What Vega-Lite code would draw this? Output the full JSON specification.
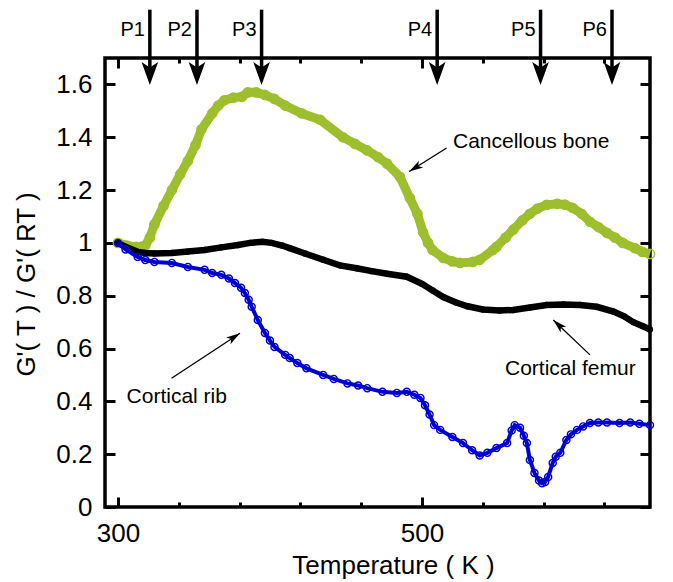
{
  "$schema": "https://vega.github.io/schema/vega-lite/v6.json",
  "width": 545,
  "height": 449,
  "autosize": {"type": "none"},
  "padding": {"left": 105, "top": 58, "right": 23, "bottom": 75},
  "background": "white",
  "config": {
    "view": {"stroke": "black", "strokeWidth": 3.5},
    "font": "Liberation Sans",
    "axis": {"domain": false, "labelColor": "black", "titleColor": "black", "labelFont": "Liberation Sans", "titleFont": "Liberation Sans"}
  },
  "datasets": {
    "cancellous": [
      {"T": 300, "G": 1.0}, {"T": 306, "G": 0.99}, {"T": 312, "G": 0.985}, {"T": 318, "G": 0.99}, {"T": 321, "G": 1.02},
      {"T": 324, "G": 1.07}, {"T": 330, "G": 1.14}, {"T": 335.5, "G": 1.2}, {"T": 341, "G": 1.26}, {"T": 346, "G": 1.31},
      {"T": 351, "G": 1.37}, {"T": 355, "G": 1.43}, {"T": 362, "G": 1.49}, {"T": 366, "G": 1.52}, {"T": 370, "G": 1.54},
      {"T": 376, "G": 1.55}, {"T": 381.6, "G": 1.553}, {"T": 385.5, "G": 1.57}, {"T": 391, "G": 1.57}, {"T": 396.7, "G": 1.56},
      {"T": 403, "G": 1.545}, {"T": 410, "G": 1.52}, {"T": 421, "G": 1.49}, {"T": 433, "G": 1.466}, {"T": 448, "G": 1.4},
      {"T": 456, "G": 1.375}, {"T": 464, "G": 1.35}, {"T": 471, "G": 1.325}, {"T": 477, "G": 1.3}, {"T": 485.5, "G": 1.25},
      {"T": 492, "G": 1.17}, {"T": 497, "G": 1.11}, {"T": 500.7, "G": 1.04}, {"T": 504, "G": 1.0}, {"T": 507, "G": 0.973},
      {"T": 514, "G": 0.943}, {"T": 520, "G": 0.93}, {"T": 525, "G": 0.924}, {"T": 533.5, "G": 0.928}, {"T": 538, "G": 0.936},
      {"T": 546.7, "G": 0.973}, {"T": 549, "G": 0.985}, {"T": 555, "G": 1.02}, {"T": 560, "G": 1.05}, {"T": 566, "G": 1.085},
      {"T": 571, "G": 1.11}, {"T": 576, "G": 1.13}, {"T": 582, "G": 1.144}, {"T": 589, "G": 1.148}, {"T": 594, "G": 1.145},
      {"T": 599, "G": 1.133}, {"T": 605, "G": 1.11}, {"T": 610.5, "G": 1.08}, {"T": 616, "G": 1.06}, {"T": 621.7, "G": 1.038},
      {"T": 627, "G": 1.02}, {"T": 632, "G": 1.0}, {"T": 640, "G": 0.98}, {"T": 645, "G": 0.966}, {"T": 650, "G": 0.958}
    ],
    "femur": [
      {"T": 300, "G": 1.0}, {"T": 305, "G": 0.985}, {"T": 313, "G": 0.966}, {"T": 318, "G": 0.962}, {"T": 324, "G": 0.96},
      {"T": 335.5, "G": 0.962}, {"T": 346, "G": 0.967}, {"T": 357, "G": 0.973}, {"T": 368, "G": 0.983}, {"T": 379, "G": 0.992},
      {"T": 387, "G": 1.0}, {"T": 395, "G": 1.004}, {"T": 401, "G": 1.0}, {"T": 408, "G": 0.99}, {"T": 413, "G": 0.98},
      {"T": 423, "G": 0.96}, {"T": 435, "G": 0.936}, {"T": 446, "G": 0.915}, {"T": 457, "G": 0.904}, {"T": 467, "G": 0.893},
      {"T": 477, "G": 0.883}, {"T": 490, "G": 0.872}, {"T": 500, "G": 0.845}, {"T": 507, "G": 0.82}, {"T": 514, "G": 0.795},
      {"T": 522, "G": 0.775}, {"T": 530, "G": 0.76}, {"T": 540, "G": 0.748}, {"T": 551, "G": 0.744}, {"T": 560, "G": 0.746},
      {"T": 571, "G": 0.755}, {"T": 582, "G": 0.765}, {"T": 593, "G": 0.767}, {"T": 604, "G": 0.765}, {"T": 615, "G": 0.758},
      {"T": 626, "G": 0.74}, {"T": 633, "G": 0.722}, {"T": 639, "G": 0.7}, {"T": 645, "G": 0.685}, {"T": 650, "G": 0.672}
    ],
    "rib": [
      {"T": 300, "G": 1.0}, {"T": 305, "G": 0.975}, {"T": 313, "G": 0.947}, {"T": 318, "G": 0.935}, {"T": 324, "G": 0.928},
      {"T": 335.5, "G": 0.924}, {"T": 346, "G": 0.909}, {"T": 357, "G": 0.898}, {"T": 362, "G": 0.886}, {"T": 368, "G": 0.879},
      {"T": 373, "G": 0.865}, {"T": 377, "G": 0.848}, {"T": 381, "G": 0.83}, {"T": 383.5, "G": 0.81}, {"T": 386, "G": 0.785},
      {"T": 388, "G": 0.758}, {"T": 392, "G": 0.708}, {"T": 396.7, "G": 0.659}, {"T": 400, "G": 0.63}, {"T": 403, "G": 0.606},
      {"T": 410, "G": 0.576}, {"T": 413, "G": 0.564}, {"T": 418, "G": 0.545}, {"T": 424, "G": 0.525}, {"T": 435, "G": 0.5},
      {"T": 442, "G": 0.485}, {"T": 451, "G": 0.468}, {"T": 458, "G": 0.46}, {"T": 464, "G": 0.45}, {"T": 474, "G": 0.436},
      {"T": 483.5, "G": 0.432}, {"T": 490, "G": 0.436}, {"T": 495, "G": 0.425}, {"T": 499, "G": 0.413}, {"T": 502, "G": 0.385},
      {"T": 505, "G": 0.35}, {"T": 508, "G": 0.31}, {"T": 512, "G": 0.292}, {"T": 520, "G": 0.265}, {"T": 527, "G": 0.242},
      {"T": 533, "G": 0.215}, {"T": 538, "G": 0.195}, {"T": 543, "G": 0.205}, {"T": 549, "G": 0.223}, {"T": 556, "G": 0.242},
      {"T": 559, "G": 0.29}, {"T": 561, "G": 0.31}, {"T": 564.5, "G": 0.3}, {"T": 567, "G": 0.27}, {"T": 569, "G": 0.242},
      {"T": 571, "G": 0.178}, {"T": 574, "G": 0.129}, {"T": 577, "G": 0.1}, {"T": 579, "G": 0.09}, {"T": 581, "G": 0.095},
      {"T": 583, "G": 0.114}, {"T": 586, "G": 0.167}, {"T": 588, "G": 0.19}, {"T": 591, "G": 0.205}, {"T": 595, "G": 0.254},
      {"T": 598, "G": 0.275}, {"T": 602, "G": 0.292}, {"T": 606, "G": 0.305}, {"T": 610.5, "G": 0.318}, {"T": 616, "G": 0.32},
      {"T": 621.7, "G": 0.32}, {"T": 630, "G": 0.318}, {"T": 637, "G": 0.32}, {"T": 643, "G": 0.315}, {"T": 650, "G": 0.31}
    ],
    "parrows": [
      {"label": "P1", "T": 321}, {"label": "P2", "T": 352}, {"label": "P3", "T": 394.5},
      {"label": "P4", "T": 510}, {"label": "P5", "T": 578}, {"label": "P6", "T": 625}
    ],
    "notes": [
      {"text": "Cancellous bone", "T": 520.4, "G": 1.36},
      {"text": "Cortical femur", "T": 554.6, "G": 0.5},
      {"text": "Cortical rib", "T": 305.7, "G": 0.394}
    ],
    "noteArrows": [
      {"name": "cancellous", "T": 516.2, "G": 1.359, "T2": 491.6, "G2": 1.27},
      {"name": "femur", "T": 610.5, "G": 0.576, "T2": 586.4, "G2": 0.708},
      {"name": "rib", "T": 335.3, "G": 0.4875, "T2": 380.3, "G2": 0.658}
    ]
  },
  "layer": [
    {
      "data": {"name": "cancellous"},
      "mark": {"type": "line", "color": "#9dbf2e", "strokeWidth": 9},
      "encoding": {
        "x": {"field": "T", "type": "quantitative", "scale": {"domain": [291.5, 650], "nice": false, "zero": false},
          "axis": {"orient": "bottom", "values": [300, 310, 320, 330, 340, 350, 360, 370, 380, 390, 400, 410, 420, 430, 440, 450, 460, 470, 480, 490, 500, 510, 520, 530, 540, 550, 560, 570, 580, 590, 600, 610, 620, 630, 640, 650],
            "format": "d", "labelExpr": "datum.value % 50 === 0 ? datum.label : ''", "ticks": false,
            "grid": true, "gridColor": "black", "gridWidth": 3, "gridOpacity": 1,
            "gridDash": {"condition": {"test": "datum.value % 50 === 0", "value": [10, 429]}, "value": [5, 439]},
            "labelFontSize": 26, "labelPadding": 13, "labelFlush": true, "labelFlushOffset": 12, "labelOverlap": false, "labelBound": false,
            "title": "Temperature ( K )", "titleFontSize": 26, "titleFontWeight": "normal", "titleX": 288, "titleY": 66, "titleAlign": "center", "titleBaseline": "alphabetic"}},
        "y": {"field": "G", "type": "quantitative", "scale": {"domain": [0, 1.7], "nice": false, "zero": false},
          "axis": {"orient": "left", "values": [0, 0.05, 0.1, 0.15, 0.2, 0.25, 0.3, 0.35, 0.4, 0.45, 0.5, 0.55, 0.6, 0.65, 0.7, 0.75, 0.8, 0.85, 0.9, 0.95, 1, 1.05, 1.1, 1.15, 1.2, 1.25, 1.3, 1.35, 1.4, 1.45, 1.5, 1.55, 1.6, 1.65],
            "format": "~g", "labelExpr": "abs(datum.value * 5 - round(datum.value * 5)) < 0.001 ? datum.label : ''", "ticks": false,
            "grid": true, "gridColor": "black", "gridWidth": 3, "gridOpacity": 1,
            "gridDash": {"condition": {"test": "abs(datum.value * 5 - round(datum.value * 5)) < 0.001", "value": [10, 525]}, "value": [5, 535]},
            "labelFontSize": 26, "labelPadding": 13, "labelFlush": false, "labelOverlap": false,
            "title": "G'( T ) / G'( RT )", "titleFontSize": 26, "titleFontWeight": "normal", "titleX": -71, "titleY": 226, "titleAngle": -90, "titleAlign": "center", "titleBaseline": "alphabetic"}}
      }
    },
    {
      "data": {"name": "cancellous"},
      "mark": {"type": "point", "shape": "circle", "filled": false, "color": "#9dbf2e", "size": 85, "strokeWidth": 1.5, "opacity": 1},
      "encoding": {
        "x": {"field": "T", "type": "quantitative"},
        "y": {"field": "G", "type": "quantitative"}
      }
    },
    {
      "data": {"name": "femur"},
      "mark": {"type": "line", "color": "black", "strokeWidth": 6.5},
      "encoding": {
        "x": {"field": "T", "type": "quantitative"},
        "y": {"field": "G", "type": "quantitative"}
      }
    },
    {
      "data": {"name": "femur"},
      "mark": {"type": "point", "shape": "circle", "filled": true, "color": "black", "size": 40, "opacity": 1},
      "encoding": {
        "x": {"field": "T", "type": "quantitative"},
        "y": {"field": "G", "type": "quantitative"}
      }
    },
    {
      "data": {"name": "rib"},
      "mark": {"type": "line", "color": "#0000d0", "strokeWidth": 4},
      "encoding": {
        "x": {"field": "T", "type": "quantitative"},
        "y": {"field": "G", "type": "quantitative"}
      }
    },
    {
      "data": {"name": "rib"},
      "mark": {"type": "point", "shape": "circle", "filled": false, "color": "#0000d0", "size": 50, "strokeWidth": 1.4, "opacity": 1},
      "encoding": {
        "x": {"field": "T", "type": "quantitative"},
        "y": {"field": "G", "type": "quantitative"}
      }
    },
    {
      "data": {"name": "parrows"},
      "mark": {"type": "rule", "color": "black", "strokeWidth": 3.5},
      "encoding": {
        "x": {"field": "T", "type": "quantitative"},
        "y": {"datum": 1.883, "type": "quantitative"},
        "y2": {"datum": 1.66}
      }
    },
    {
      "data": {"name": "parrows"},
      "mark": {"type": "point", "shape": "M0,0 L-1,-2.75 L0,-2.1 L1,-2.75 Z", "filled": true, "color": "black", "size": 276, "strokeWidth": 0, "opacity": 1},
      "encoding": {
        "x": {"field": "T", "type": "quantitative"},
        "y": {"datum": 1.598, "type": "quantitative"}
      }
    },
    {
      "data": {"name": "parrows"},
      "mark": {"type": "text", "align": "right", "baseline": "middle", "dx": -5, "fontSize": 20, "font": "Liberation Sans", "color": "black"},
      "encoding": {
        "x": {"field": "T", "type": "quantitative"},
        "y": {"datum": 1.807, "type": "quantitative"},
        "text": {"field": "label"}
      }
    },
    {
      "data": {"name": "notes"},
      "mark": {"type": "text", "align": "left", "baseline": "alphabetic", "fontSize": 21, "font": "Liberation Sans", "color": "black"},
      "encoding": {
        "x": {"field": "T", "type": "quantitative"},
        "y": {"field": "G", "type": "quantitative"},
        "text": {"field": "text"}
      }
    },
    {
      "data": {"name": "noteArrows"},
      "mark": {"type": "rule", "color": "black", "strokeWidth": 1.3},
      "encoding": {
        "x": {"field": "T", "type": "quantitative"},
        "y": {"field": "G", "type": "quantitative"},
        "x2": {"field": "T2"},
        "y2": {"field": "G2"}
      }
    },
    {
      "data": {"name": "noteArrows"},
      "transform": [{"filter": "datum.name === 'cancellous'"}],
      "mark": {"type": "point", "shape": "M0,0 L-3.5,-1 L-2.6,0 L-3.5,1 Z", "filled": true, "color": "black", "size": 64, "strokeWidth": 0, "opacity": 1, "angle": 148},
      "encoding": {
        "x": {"field": "T2", "type": "quantitative"},
        "y": {"field": "G2", "type": "quantitative"}
      }
    },
    {
      "data": {"name": "noteArrows"},
      "transform": [{"filter": "datum.name === 'femur'"}],
      "mark": {"type": "point", "shape": "M0,0 L-3.5,-1 L-2.6,0 L-3.5,1 Z", "filled": true, "color": "black", "size": 64, "strokeWidth": 0, "opacity": 1, "angle": 223.6},
      "encoding": {
        "x": {"field": "T2", "type": "quantitative"},
        "y": {"field": "G2", "type": "quantitative"}
      }
    },
    {
      "data": {"name": "noteArrows"},
      "transform": [{"filter": "datum.name === 'rib'"}],
      "mark": {"type": "point", "shape": "M0,0 L-3.5,-1 L-2.6,0 L-3.5,1 Z", "filled": true, "color": "black", "size": 64, "strokeWidth": 0, "opacity": 1, "angle": 326.6},
      "encoding": {
        "x": {"field": "T2", "type": "quantitative"},
        "y": {"field": "G2", "type": "quantitative"}
      }
    }
  ]
}
